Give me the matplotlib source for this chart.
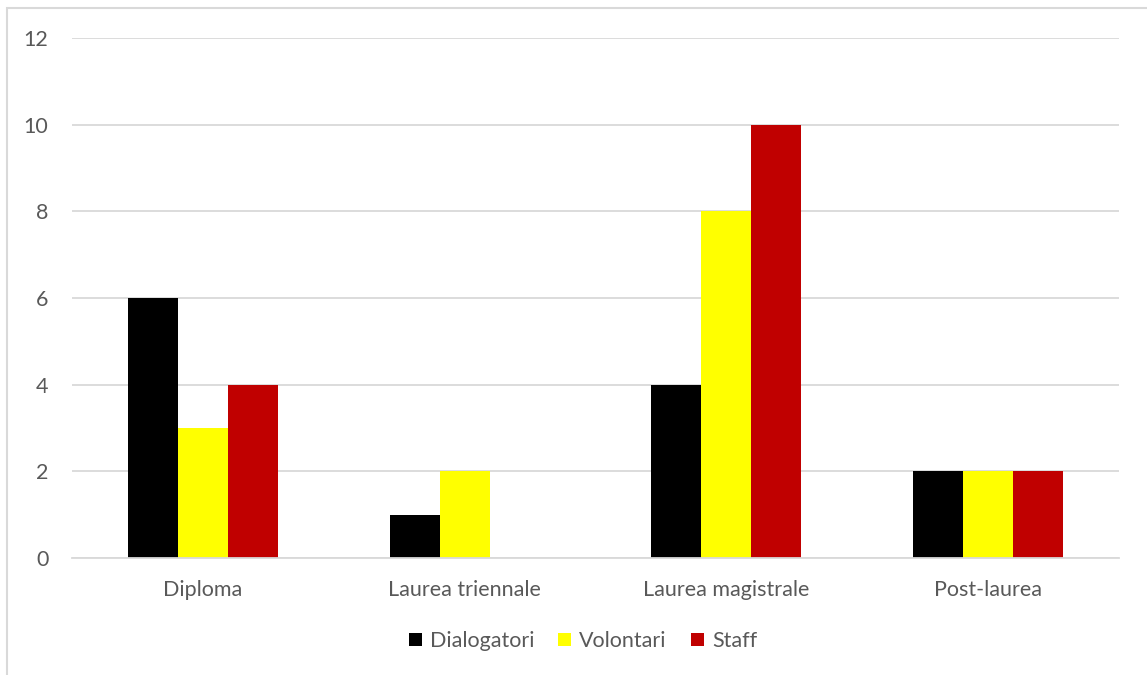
import matplotlib
matplotlib.use("Agg")
import matplotlib.pyplot as plt
from matplotlib.patches import Rectangle
import numpy as np

categories = ["Diploma", "Laurea triennale", "Laurea magistrale", "Post-laurea"]
dialogatori = [6, 1, 4, 2]
volontari = [3, 2, 8, 2]
staff = [4, 0, 10, 2]
series_names = ["Dialogatori", "Volontari", "Staff"]
series_colors = ["#000000", "#FFFF00", "#C00000"]
y_ticks = [0, 2, 4, 6, 8, 10, 12]

plt.rcParams['font.family'] = ['Lato', 'DejaVu Sans']

W, H = 1147, 675
fig = plt.figure(figsize=(W / 100, H / 100), dpi=100)
fig.patch.set_facecolor("white")

# outer chart frame (left and top edges visible)
fig.add_artist(Rectangle((7.5 / W, -0.1), 1.2, 1.1 - 8.5 / H,
                         transform=fig.transFigure, fill=False,
                         edgecolor="#D9D9D9", linewidth=1.5))

ax = fig.add_axes([72 / W, 1 - 558 / H, (1119 - 72) / W, (558 - 38) / H])

x = np.arange(len(categories))
bw = 50 / 261.75
for i, (vals, name, col) in enumerate(zip([dialogatori, volontari, staff],
                                          series_names, series_colors)):
    ax.bar(x + (i - 1) * bw, vals, width=bw, color=col, label=name, zorder=3)

ax.set_xlim(-0.5, len(categories) - 0.5)
ax.set_ylim(0, 12)
ax.set_yticks(y_ticks)
ax.set_xticks(x)
ax.set_xticklabels(categories)
ax.grid(axis="y", color="#D9D9D9", linewidth=1.3, zorder=0)
for s in ["top", "right", "left"]:
    ax.spines[s].set_visible(False)
ax.spines["bottom"].set_color("#D9D9D9")
ax.spines["bottom"].set_linewidth(1.3)
ax.spines["bottom"].set_zorder(4)
ax.tick_params(axis="both", length=0, labelsize=15.5, labelcolor="#595959")
ax.tick_params(axis="y", pad=17)
ax.tick_params(axis="x", pad=16)

leg = fig.legend(loc="center", bbox_to_anchor=(583 / W, 1 - 641 / H), ncol=3,
                 frameon=False, fontsize=15.5, handlelength=0.6, handleheight=0.6,
                 handletextpad=0.37, columnspacing=1.12)
for t in leg.get_texts():
    t.set_color("#595959")

fig.savefig("out.png", dpi=100, facecolor="white")
